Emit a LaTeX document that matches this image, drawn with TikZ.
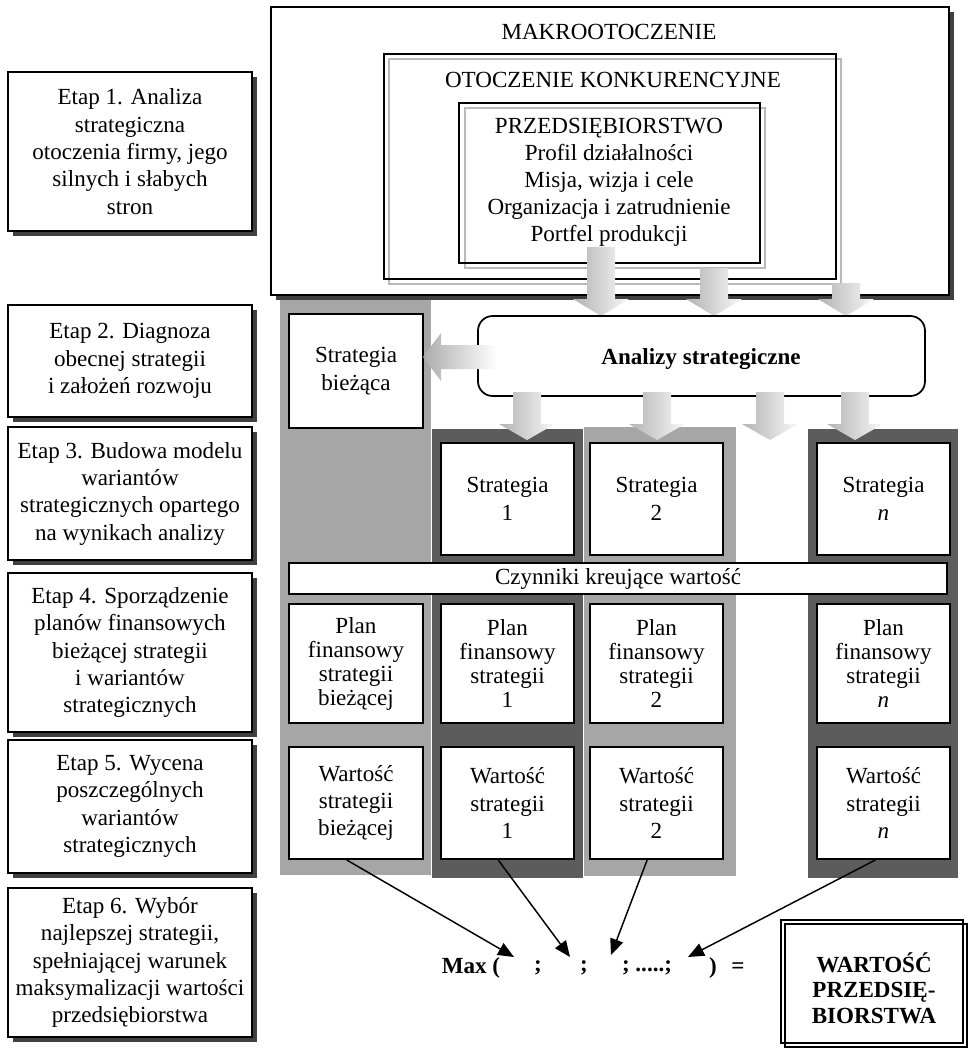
\documentclass[tikz,border=0pt]{standalone}
\usepackage{fontspec}
\setmainfont{Liberation Serif}
\usetikzlibrary{arrows.meta,shadows}
\definecolor{lgray}{gray}{0.65}
\definecolor{dgray}{gray}{0.36}
\newcommand\blockdown[4]{\shade[left color=gray!60, right color=gray!6] (#1-14,#2) -- (#1+14,#2) -- (#1+14,#3) -- (#1+28,#3) -- (#1,#4) -- (#1-28,#3) -- (#1-14,#3) -- cycle;}
\newcommand\bx[7]{\node[#1, minimum width={(#5-#3)*0.75pt}, minimum height={(#6-#4)*0.75pt}] (#2) at ({(#3+#5)/2},{(#4+#6)/2}) {#7};}
\begin{document}
\begin{tikzpicture}[x=0.75pt,y=-0.75pt,
  txt/.style={font=\fontsize{17.3}{20.5}\selectfont, align=center, inner sep=0pt},
  box/.style={draw, line width=1.4pt, fill=white, inner sep=0pt, txt},
  frame/.style={draw, line width=1.4pt, inner sep=0pt},
  plan/.style={box, font=\fontsize{17.3}{18}\selectfont},
  shad/.style={drop shadow={shadow xshift=3.75pt, shadow yshift=-3.75pt, opacity=1, fill=black!75}},
  etap/.style={box, line width=1.5pt, shad},
  conn/.style={line width=1.1pt, -{Triangle[length=12pt,width=10pt]}},
  boldtxt/.style={font=\fontsize{17.3}{19}\selectfont\bfseries, align=center, inner sep=0pt}]
\useasboundingbox (0,0) rectangle (971,1051);

% stage boxes
\bx{etap}{e1}{8}{72}{252}{231}{Etap 1. Analiza\\strategiczna\\otoczenia firmy, jego\\silnych i słabych\\stron}
\bx{etap}{e2}{8}{305}{252}{417}{Etap 2. Diagnoza\\obecnej strategii\\i założeń rozwoju}
\bx{etap}{e3}{8}{427}{252}{560}{Etap 3. Budowa modelu\\wariantów\\strategicznych opartego\\na wynikach analizy}
\bx{etap}{e4}{8}{573}{252}{732}{Etap 4. Sporządzenie\\planów finansowych\\bieżącej strategii\\i wariantów\\strategicznych}
\bx{etap}{e5}{8}{740}{252}{873}{Etap 5. Wycena\\poszczególnych\\wariantów\\strategicznych}
\bx{etap}{e6}{8}{888}{252}{1037}{Etap 6. Wybór\\najlepszej strategii,\\spełniającej warunek\\maksymalizacji wartości\\przedsiębiorstwa}

% columns
\fill[lgray] (280,300) rectangle (431,875);
\fill[dgray] (432,429) rectangle (583,878);
\fill[lgray] (584,427) rectangle (736,876);
\fill[dgray] (808,429) rectangle (958,878);

% environment boxes
\bx{box, line width=1.5pt, shad}{makro}{271}{7}{949}{295}{}
\node[txt] (makrot) at (609,32) {MAKROOTOCZENIE};
\draw[gray!55, line width=1.4pt] (389,59) rectangle (841,284);
\bx{frame}{otocz}{384}{54}{836}{279}{}
\node[txt] (otoczt) at (613,80) {OTOCZENIE KONKURENCYJNE};
\draw[gray!55, line width=1.4pt] (465,108) rectangle (765,268);
\bx{frame}{przed}{459}{103}{760}{263}{}
\node[txt, font=\fontsize{17.3}{20.25}\selectfont] (przedt) at (609,182) {PRZEDSIĘBIORSTWO\\Profil działalności\\Misja, wizja i cele\\Organizacja i zatrudnienie\\Portfel produkcji};

% block arrows into the analyses
\blockdown{601}{247}{299}{316}
\blockdown{714}{268}{299}{316}
\blockdown{846}{283}{299}{316}

% analyses
\bx{draw, line width=1.3pt, rounded corners=11pt, fill=white, inner sep=0pt}{anal}{478}{316}{925}{396}{}
\node[boldtxt] (analt) at (701,359) {Analizy strategiczne};
\bx{box}{sb}{289}{314}{423}{428}{Strategia\\bieżąca}
\shade[left color=gray!65, right color=white] (497,345) -- (441,345) -- (441,333) -- (423,357) -- (441,381) -- (441,369) -- (497,369) -- cycle;

% strategies
\bx{box}{s1}{441}{443}{574}{555}{Strategia\\1}
\bx{box}{s2}{590}{443}{723}{555}{Strategia\\2}
\bx{box}{sn}{817}{443}{950}{555}{Strategia\\\textit{n}}
\blockdown{527}{392}{424}{440}
\blockdown{657}{392}{424}{440}
\blockdown{770}{392}{424}{440}
\blockdown{855}{392}{424}{440}

\bx{box}{czyn}{289}{563}{947}{594}{Czynniki kreujące wartość}

% financial plans
\bx{plan}{p0}{289}{604}{423}{723}{Plan\\finansowy\\strategii\\bieżącej}
\bx{plan}{p1}{441}{604}{574}{723}{Plan\\finansowy\\strategii\\1}
\bx{plan}{p2}{590}{604}{723}{723}{Plan\\finansowy\\strategii\\2}
\bx{plan}{pn}{817}{604}{950}{723}{Plan\\finansowy\\strategii\\\textit{n}}

% values
\bx{box}{w0}{289}{747}{423}{859}{Wartość\\strategii\\bieżącej}
\bx{box}{w1}{441}{747}{574}{859}{Wartość\\strategii\\1}
\bx{box}{w2}{590}{747}{723}{859}{Wartość\\strategii\\2}
\bx{box}{wn}{817}{747}{950}{859}{Wartość\\strategii\\\textit{n}}

% max row
\node[boldtxt] (mx) at (471,968) {Max (};
\node[boldtxt] (sc1) at (538,968) {;};
\node[boldtxt] (sc2) at (584,968) {;};
\node[boldtxt] (sc3) at (647,968) {; .....;};
\node[boldtxt] (cl) at (713,968) {)};
\node[boldtxt] (eq) at (738,968) {=};
\coordinate (t0) at (514,957);
\coordinate (t1) at (570,957);
\coordinate (t2) at (611,955);
\coordinate (t3) at (688,957);
\draw[conn] ([xshift=-7pt]w0.south) -- (t0);
\draw[conn] ([xshift=-7pt]w1.south) -- (t1);
\draw[conn] ([xshift=-7pt]w2.south) -- (t2);
\draw[conn] ([xshift=-6pt]wn.south) -- (t3);

% enterprise value
\draw[line width=1.1pt] (785,924) rectangle (967,1047);
\bx{draw, line width=1.1pt, inner sep=0pt}{wp}{781}{920}{963}{1043}{}
\node[boldtxt, font=\fontsize{17.3}{19}\selectfont\bfseries] (wpt) at (874,988) {WARTOŚĆ\\PRZEDSIĘ-\\BIORSTWA};
\end{tikzpicture}
\end{document}
